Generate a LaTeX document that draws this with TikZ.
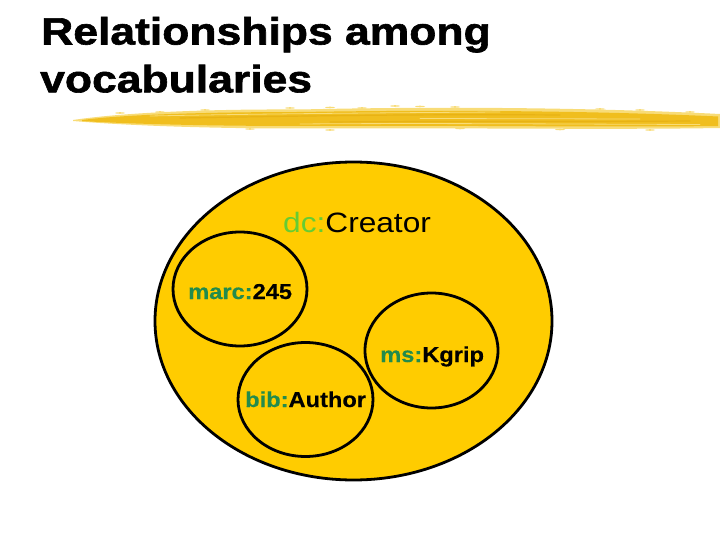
\documentclass[tikz,border=0pt]{standalone}
\usepackage{fontspec}
\usetikzlibrary{shapes.geometric}
\setmainfont{Liberation Sans}
\newfontfamily\titlefont[FakeStretch=1.17,FakeBold=1.6]{Liberation Sans Bold}
\newfontfamily\labfont[FakeStretch=1.1,FakeBold=0.4]{Liberation Sans Bold}
\newfontfamily\dcfont[FakeStretch=1.13]{Liberation Sans}
\definecolor{vennfill}{RGB}{255,204,0}
\definecolor{brushc}{RGB}{240,190,30}
\definecolor{brushdark}{RGB}{232,178,20}
\definecolor{brushlight}{RGB}{248,220,120}
\definecolor{dcgreen}{RGB}{102,204,51}
\definecolor{nsgreen}{RGB}{34,139,76}
\tikzset{
  venn/.style={ellipse, draw=black, fill=vennfill, line width=2.8pt, inner sep=0pt},
  titletext/.style={anchor=base west, inner sep=0pt, font=\titlefont\fontsize{38}{44}\selectfont},
  lab/.style={anchor=base west, inner sep=0pt, font=\labfont\fontsize{21.5}{25}\selectfont},
  dclab/.style={anchor=base west, inner sep=0pt, font=\dcfont\fontsize{28}{32}\selectfont},
  streak/.style={draw=brushlight, line width=0.8pt, line cap=round},
  dstreak/.style={draw=brushdark, line width=1.2pt, line cap=round}
}
\begin{document}
\begin{tikzpicture}[x=1pt,y=-1pt]
\useasboundingbox (0,0) rectangle (720,540);
% title
\node[titletext] (t1) at (41,44.5) {Relationships among};
\node[titletext] (t2) at (40,92.3) {vocabularies};
% brush stroke
\fill[brushlight] (73,120) .. controls (120,113) and (200,109) .. (300,109.5)
  .. controls (450,106) and (600,108) .. (720,114) -- (720,128)
  .. controls (600,130) and (450,127.5) .. (300,128.5)
  .. controls (200,128.5) and (120,125) .. (73,121) -- cycle;
\fill[brushc] (82,120) .. controls (120,115) and (200,112) .. (300,112)
  .. controls (450,109.5) and (600,111) .. (718,116.5) -- (718,126)
  .. controls (600,127.5) and (450,125) .. (300,126)
  .. controls (200,126) and (120,123.5) .. (82,121) -- cycle;
\draw[dstreak] (180,118) .. controls (300,116) and (420,114) .. (560,115);
\draw[dstreak] (330,122) .. controls (450,121) and (560,122) .. (690,121);
\draw[streak] (150,116) .. controls (250,114) and (350,113) .. (500,112);
\draw[streak] (300,124) .. controls (420,123) and (540,124) .. (700,124.5);
\draw[streak] (420,118.5) -- (640,119);
% ragged specks along edges
\foreach \x/\y in {120/113,160/112,205/110,232/111,290/108,330/107.5,362/108,395/106,420/106.5,455/107,600/109,640/110,690/112,250/129,330/130,460/128.5,560/129.5,650/130}
  \fill[brushlight] (\x,\y) ellipse [x radius=5pt, y radius=0.8pt];
% ellipses
\node[venn, minimum width=397pt, minimum height=318pt] (dc) at (353.5,321) {};
\node[venn, minimum width=134pt, minimum height=114pt] (marc) at (240,289) {};
\node[venn, minimum width=133pt, minimum height=115pt] (ms) at (431.5,350.5) {};
\node[venn, minimum width=135pt, minimum height=114pt] (bib) at (305.5,399.5) {};
% labels
\node[dclab] (dcl) at (283,233) {\textcolor{dcgreen}{dc:}Creator};
\node[lab] (marcl) at (188,299) {\textcolor{nsgreen}{marc:}245};
\node[lab] (msl) at (380,362) {\textcolor{nsgreen}{ms:}Kgrip};
\node[lab] (bibl) at (245,407) {\textcolor{nsgreen}{bib:}Author};
\end{tikzpicture}
\end{document}
